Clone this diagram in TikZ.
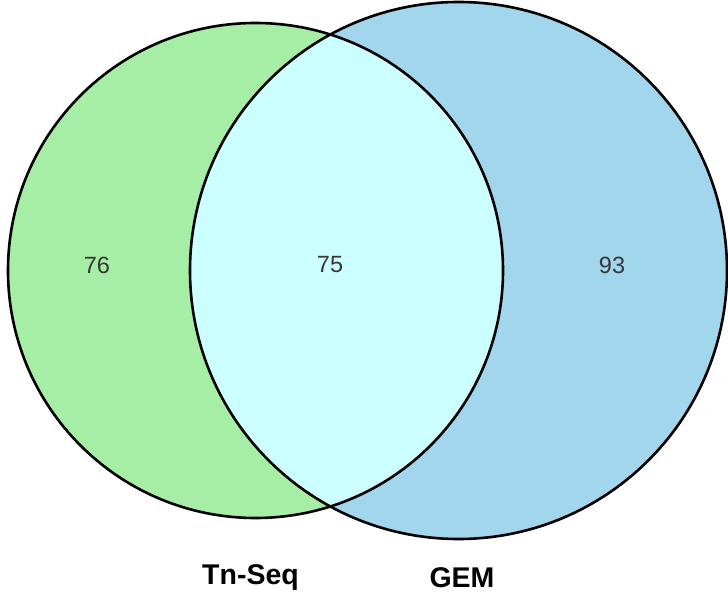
\documentclass[tikz,border=0pt]{standalone}
\usepackage{fontspec}
\setmainfont{Liberation Sans}
\definecolor{vgreen}{RGB}{166,238,166}
\definecolor{vblue}{RGB}{162,214,236}
\definecolor{vcyan}{RGB}{204,255,255}
\definecolor{vtext}{RGB}{55,55,55}
\begin{document}
\begin{tikzpicture}[x=1pt,y=-1pt,
  outline/.style={draw=black,line width=2.6pt},
  count/.style={font=\fontsize{23.5}{26}\selectfont,text=vtext,inner sep=0pt},
  setname/.style={font=\fontsize{28.5}{32}\bfseries\selectfont,text=black,inner sep=0pt}]
\useasboundingbox (0,0) rectangle (728,601);
\def\lcirc{(255.5,270.5) circle[radius=247.5]}
\def\rcirc{(458.5,270.5) circle[radius=268.5]}
\fill[vgreen] \lcirc;
\fill[vblue] \rcirc;
\begin{scope}
  \clip \lcirc;
  \fill[vcyan] \rcirc;
\end{scope}
\draw[outline] \lcirc;
\draw[outline] \rcirc;
\node[count] (a) at (97,265) {76};
\node[count] (ab) at (330,265) {75};
\node[count] (b) at (612,265) {93};
\node[setname] (la) at (250.5,578) {Tn-Seq};
\node[setname] (lb) at (462,578) {GEM};
\end{tikzpicture}
\end{document}
